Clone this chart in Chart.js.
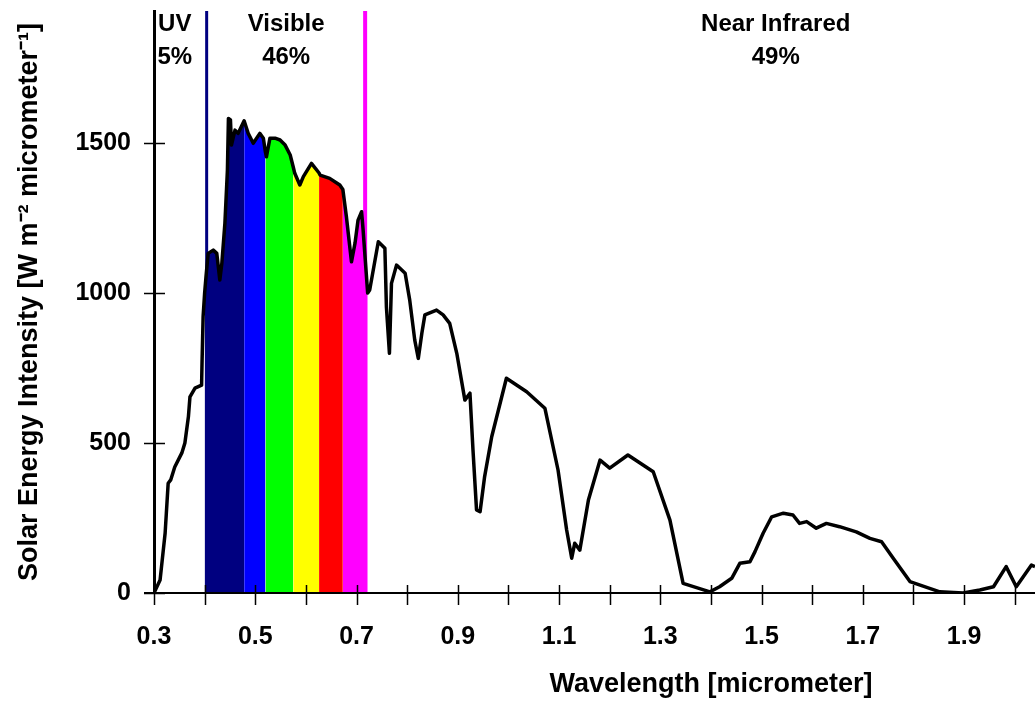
<!DOCTYPE html>
<html>
<head>
<meta charset="utf-8">
<script src="https://cdn.jsdelivr.net/npm/chart.js@4.4.0/dist/chart.umd.min.js"></script>
<style>
  html, body { margin: 0; padding: 0; background: #fff; }
  #wrap { width: 1035px; height: 703px; }
</style>
</head>
<body>
<div id="wrap"><canvas id="spectrumChart"></canvas></div>
<script>
// wavelength in micrometer, intensity in W m-2 micrometer-1
const wavelength = [
  0.300, 0.312, 0.322, 0.328, 0.333, 0.341, 0.355, 0.361, 0.368, 0.371,
  0.381, 0.394, 0.395, 0.397, 0.400, 0.403, 0.407, 0.417, 0.424, 0.430,
  0.434, 0.440, 0.445, 0.447, 0.451, 0.453, 0.460, 0.466, 0.478, 0.486,
  0.496, 0.509, 0.516, 0.520, 0.522, 0.529, 0.539, 0.549, 0.559, 0.569,
  0.575, 0.578, 0.588, 0.595, 0.611, 0.626, 0.628, 0.647, 0.667, 0.673,
  0.680, 0.690, 0.697, 0.703, 0.710, 0.713, 0.722, 0.726, 0.743, 0.756,
  0.759, 0.765, 0.769, 0.779, 0.796, 0.805, 0.815, 0.822, 0.829, 0.835,
  0.858, 0.871, 0.884, 0.898, 0.914, 0.924, 0.930, 0.937, 0.944, 0.953,
  0.967, 0.996, 1.036, 1.072, 1.098, 1.115, 1.125, 1.131, 1.141, 1.158,
  1.181, 1.200, 1.236, 1.286, 1.319, 1.345, 1.398, 1.417, 1.441, 1.457,
  1.477, 1.487, 1.503, 1.520, 1.543, 1.562, 1.575, 1.589, 1.608, 1.628,
  1.654, 1.687, 1.714, 1.737, 1.760, 1.793, 1.852, 1.898, 1.931, 1.958,
  1.983, 2.003, 2.033, 2.040
];
const intensity = [
  0, 43, 200, 366, 377, 420, 467, 500, 588, 654,
  683, 693, 777, 921, 1000, 1060, 1132, 1143, 1132, 1043,
  1099, 1232, 1410, 1582, 1577, 1493, 1543, 1532, 1574, 1532,
  1499, 1532, 1516, 1470, 1454, 1516, 1516, 1510, 1493, 1460,
  1420, 1399, 1360, 1388, 1432, 1400, 1393, 1382, 1360, 1345,
  1254, 1104, 1166, 1243, 1271, 1210, 1000, 1010, 1171, 1149,
  954, 799, 1032, 1093, 1066, 977, 843, 782, 866, 927,
  943, 927, 899, 799, 643, 666, 477, 277, 271, 388,
  521, 716, 671, 616, 410, 210, 116, 166, 143, 310,
  443, 416, 460, 404, 243, 32, 4, 21, 49, 99,
  104, 138, 199, 254, 266, 260, 232, 238, 216, 232,
  221, 204, 182, 171, 116, 38, 4, 0, 10, 21,
  88, 21, 93, 88
];

// visible colour bands
const bandEdges = [0.400, 0.478, 0.520, 0.575, 0.626, 0.673, 0.722];
const bandColors = ["#000080", "#0000ff", "#00ff00", "#ffff00", "#ff0000", "#ff00ff"];

// UV / visible / near infrared dividers
const dividerX = [0.404, 0.717];
const dividerColors = ["#000080", "#ff00ff"];

const xTickValues = [0.3, 0.4, 0.5, 0.6, 0.7, 0.8, 0.9, 1.0, 1.1, 1.2, 1.3, 1.4, 1.5, 1.6, 1.7, 1.8, 1.9, 2.0];
const xTickLabels = ["0.3", "", "0.5", "", "0.7", "", "0.9", "", "1.1", "", "1.3", "", "1.5", "", "1.7", "", "1.9", ""];
const yTickValues = [0, 500, 1000, 1500];
const yTickLabels = ["0", "500", "1000", "1500"];

const regionNames = ["UV", "Visible", "Near Infrared"];
const regionShares = ["5%", "46%", "49%"];
const regionCenters = [0.341, 0.561, 1.528];

const FONT = "'Liberation Sans', Arial, sans-serif";

const points = wavelength.map((w, i) => ({ x: w, y: intensity[i] }));

const bandSets = bandColors.map((color, i) => ({
  data: points.filter((p) => p.x >= bandEdges[i] && p.x <= bandEdges[i + 1]),
  borderWidth: 0,
  borderColor: color,
  backgroundColor: color,
  pointRadius: 0,
  fill: "origin",
  tension: 0,
}));

const dividerSets = dividerX.map((v, i) => ({
  data: [{ x: v, y: 0 }, { x: v, y: 1940 }],
  borderColor: dividerColors[i],
  borderWidth: i === 0 ? 3 : 4,
  pointRadius: 0,
  fill: false,
}));

// no extra room for overflowing labels, the chart area is set by afterFit
const noPad = (scale) => {
  scale.paddingTop = 0;
  scale.paddingBottom = 0;
  scale.paddingLeft = 0;
  scale.paddingRight = 0;
};

const axisExtras = {
  id: "axisExtras",
  afterDraw(chart) {
    const { ctx, chartArea } = chart;
    const x = chart.scales.x;
    const y = chart.scales.y;
    const base = y.getPixelForValue(0);
    ctx.save();
    ctx.strokeStyle = "#000";

    // x axis line runs a little left of the y axis
    ctx.lineWidth = 2;
    ctx.beginPath();
    ctx.moveTo(chartArea.left - 10, base);
    ctx.lineTo(chartArea.right, base);
    ctx.stroke();

    // tick marks crossing the axes
    ctx.lineWidth = 1.5;
    ctx.beginPath();
    xTickValues.forEach((v) => {
      const px = Math.round(x.getPixelForValue(v)) + 0.5;
      ctx.moveTo(px, base - 8);
      ctx.lineTo(px, base + 12);
    });
    yTickValues.forEach((v) => {
      const py = Math.round(y.getPixelForValue(v)) + 0.5;
      ctx.moveTo(chartArea.left - 10, py);
      ctx.lineTo(chartArea.left + 11, py);
    });
    ctx.stroke();

    // region labels
    ctx.fillStyle = "#000";
    ctx.font = "bold 24px " + FONT;
    ctx.textAlign = "center";
    ctx.textBaseline = "middle";
    regionNames.forEach((name, i) => {
      const px = x.getPixelForValue(regionCenters[i]);
      ctx.fillText(name, px, chartArea.top + 13);
      ctx.fillText(regionShares[i], px, chartArea.top + 46);
    });

    // x axis title
    ctx.font = "bold 27px " + FONT;
    ctx.fillText("Wavelength [micrometer]", x.getPixelForValue(1.4), 685);
    ctx.restore();
  },
};

new Chart(document.getElementById("spectrumChart"), {
  type: "line",
  data: {
    datasets: [
      {
        data: points,
        borderColor: "#000",
        borderWidth: 3.5,
        pointRadius: 0,
        fill: false,
        tension: 0,
        borderJoinStyle: "round",
      },
      ...dividerSets,
      ...bandSets,
    ],
  },
  options: {
    responsive: true,
    maintainAspectRatio: false,
    animation: false,
    layout: { padding: { top: 11, right: 0, left: 0, bottom: 0 } },
    plugins: {
      legend: { display: false },
      tooltip: { enabled: false },
    },
    scales: {
      x: {
        type: "linear",
        min: 0.3,
        max: 2.04,
        afterBuildTicks: (scale) => {
          scale.ticks = xTickValues.map((v) => ({ value: v }));
        },
        afterFit: (scale) => {
          scale.height = 110;
          noPad(scale);
        },
        grid: { display: false, drawTicks: false },
        border: { display: false },
        ticks: {
          autoSkip: false,
          maxRotation: 0,
          padding: 29,
          color: "#000",
          font: { family: FONT, size: 25, weight: "bold" },
          callback: (val, i) => xTickLabels[i],
        },
      },
      y: {
        min: 0,
        max: 1940,
        afterBuildTicks: (scale) => {
          scale.ticks = yTickValues.map((v) => ({ value: v }));
        },
        afterFit: (scale) => {
          scale.width = 154;
          noPad(scale);
        },
        grid: { display: false, drawTicks: false },
        border: { display: true, color: "#000", width: 3 },
        ticks: {
          padding: 23,
          color: "#000",
          font: { family: FONT, size: 25, weight: "bold" },
          callback: (val, i) => yTickLabels[i],
        },
        title: {
          display: true,
          text: "Solar Energy Intensity [W m\u207B\u00B2 micrometer\u207B\u00B9]",
          color: "#000",
          font: { family: FONT, size: 27, weight: "bold" },
          padding: { top: 13, bottom: 0 },
        },
      },
    },
  },
  plugins: [axisExtras],
});
</script>
</body>
</html>
